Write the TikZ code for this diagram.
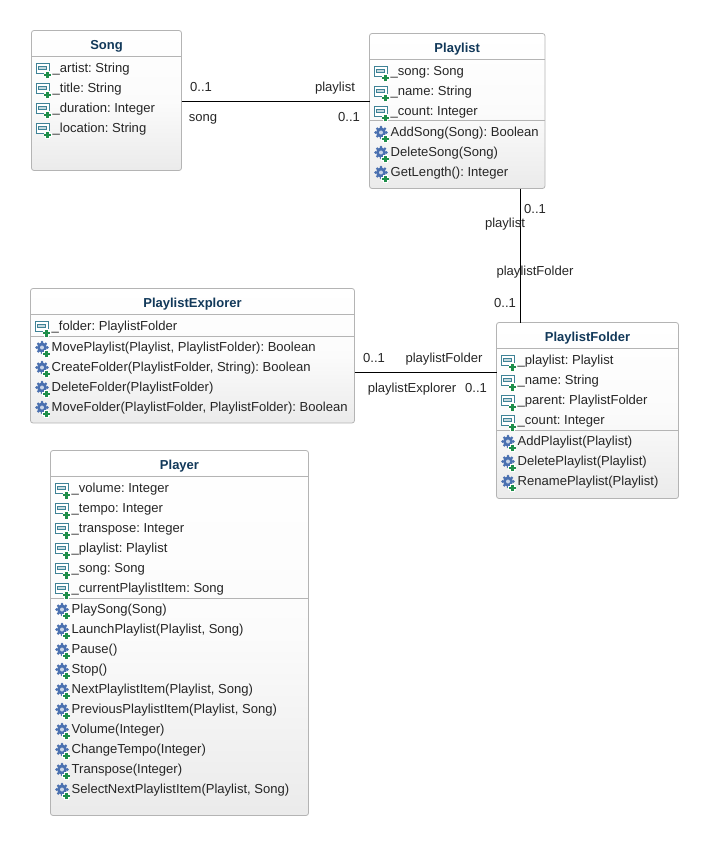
\documentclass[tikz,border=0pt]{standalone}
\usepackage{fontspec}
\setmainfont{Liberation Sans}
\usetikzlibrary{calc}

\definecolor{titleblue}{HTML}{12395A}
\definecolor{boxline}{HTML}{B4B4B4}
\definecolor{iconblue}{HTML}{3F8296}
\definecolor{gearblue}{HTML}{4A70B0}
\definecolor{plusgreen}{HTML}{1E8E4A}

\tikzset{
	umlclass/.style={draw=boxline,line width=.8pt,rounded corners=2.5pt,top color=white,bottom color=black!8,middle color=black!1.5,inner sep=0pt,outer sep=0pt,anchor=north west},
	classname/.style={font=\fontsize{13}{15}\selectfont\bfseries,text=titleblue,anchor=base},
	member/.style={font=\fontsize{13.05}{15}\selectfont\frenchspacing,text=black!85,anchor=base west,inner sep=0pt},
	assoc/.style={font=\fontsize{13.05}{15}\selectfont,text=black!85,inner sep=0pt,anchor=base},
	assocline/.style={line width=1pt,black},
	plusmark/.pic={
		\fill[white] (-2.4,-4) rectangle (2.4,4);
		\fill[white] (-4,-2.4) rectangle (4,2.4);
		\draw[plusgreen,line width=2.2pt] (-3.4,0) -- (3.4,0) (0,-3.4) -- (0,3.4);
	},
	attricon/.pic={
		\draw[iconblue,fill=white,line width=.9pt] (-8,5) rectangle (5.5,-4.8);
		\draw[iconblue,fill=iconblue!30,line width=.7pt] (-5.5,2.6) rectangle (2.5,-1.2);
		\pic at (3.5,-6.6) {plusmark};
	},
	opicon/.pic={
		\foreach \a in {0,45,...,315}
			\fill[gearblue] (-1,-.5) ++(\a:5.3) circle (1.5pt);
		\fill[gearblue] (-1,-.5) circle (5pt);
		\fill[white!70!gearblue] (-1,-.5) circle (2pt);
		\pic at (3.4,-7) {plusmark};
	},
}

% box, title, rule under the title, rule above the operations
\newcommand{\umlbox}[7]{
	\node[umlclass,minimum width=#4 pt,minimum height=#5 pt] (#1) at (#2,-#3) {};
	\node[classname] (#1-title) at ($(#1.north)+(0,-19)$) {#1};
	\draw[boxline,line width=.8pt] ($(#1.north west)+(0,-#6)$) -- ($(#1.north east)+(0,-#6)$);
	\ifx&#7&\else
	\draw[boxline,line width=.8pt] ($(#1.north west)+(0,-#7)$) -- ($(#1.north east)+(0,-#7)$);
	\fi
}
% #1 class, #2 first row below the top, #3 picture for the icon, #4 rows
\newcommand{\umlrows}[4]{
	\foreach \row [count=\i] in {#4} {
		\pic at ($(#1.north west)+(12.5,-#2-20*\i+20)$) {#3};
		\node[member] (#1-#3-\i) at ($(#1.north west)+(21,-#2-20*\i+20-4.4)$) {\row};
	}
}

\begin{document}
\begin{tikzpicture}[x=1pt,y=1pt]
	\useasboundingbox (0,0) rectangle (708,-845);

	\umlbox{Song}{31.5}{30.5}{150}{140}{26}{}
	\umlrows{Song}{38}{attricon}{\_artist: String,\_title: String,\_duration: Integer,\_location: String}

	\umlbox{Playlist}{369.5}{33.5}{175.5}{155}{26}{87}
	\umlrows{Playlist}{38}{attricon}{\_song: Song,\_name: String,\_count: Integer}
	\umlrows{Playlist}{98.5}{opicon}{AddSong(Song): Boolean,DeleteSong(Song),GetLength(): Integer}

	\umlbox{PlaylistExplorer}{30.5}{288.5}{324}{134.5}{26}{47.5}
	\umlrows{PlaylistExplorer}{38}{attricon}{\_folder: PlaylistFolder}
	\umlrows{PlaylistExplorer}{58.5}{opicon}{{MovePlaylist(Playlist, PlaylistFolder): Boolean},{CreateFolder(PlaylistFolder, String): Boolean},DeleteFolder(PlaylistFolder),{MoveFolder(PlaylistFolder, PlaylistFolder): Boolean}}

	\umlbox{PlaylistFolder}{496.5}{322.5}{182}{176}{26}{107.5}
	\umlrows{PlaylistFolder}{38}{attricon}{\_playlist: Playlist,\_name: String,\_parent: PlaylistFolder,\_count: Integer}
	\umlrows{PlaylistFolder}{118.5}{opicon}{AddPlaylist(Playlist),DeletePlaylist(Playlist),RenamePlaylist(Playlist)}

	\umlbox{Player}{50.5}{450.5}{258}{365}{26}{147.5}
	\umlrows{Player}{38}{attricon}{\_volume: Integer,\_tempo: Integer,\_transpose: Integer,\_playlist: Playlist,\_song: Song,\_currentPlaylistItem: Song}
	\umlrows{Player}{158.5}{opicon}{PlaySong(Song),{LaunchPlaylist(Playlist, Song)},Pause(),Stop(),{NextPlaylistItem(Playlist, Song)},{PreviousPlaylistItem(Playlist, Song)},Volume(Integer),ChangeTempo(Integer),Transpose(Integer),{SelectNextPlaylistItem(Playlist, Song)}}

	% associations
	\draw[assocline] ($(Song.east)+(0,-1)$) -- ($(Song.east -| Playlist.west)+(0,-1)$);
	\draw[assocline] ($(Playlist.south east)+(-24.5,0)$) -- ($(PlaylistFolder.north west)+(24,0)$);
	\draw[assocline] ($(PlaylistExplorer.south east)+(0,50.5)$) -- ($(PlaylistExplorer.south east -| PlaylistFolder.west)+(0,50.5)$);

	\node[assoc] (m1) at (201,-91.7) {0..1};
	\node[assoc] (r1) at (335,-91.7) {playlist};
	\node[assoc] (r2) at (203,-121.7) {song};
	\node[assoc] (m2) at (349,-121.7) {0..1};
	\node[assoc] (m3) at (535,-213) {0..1};
	\node[assoc] (r3) at (505,-227) {playlist};
	\node[assoc] (r4) at (535,-275.5) {playlistFolder};
	\node[assoc] (m4) at (505,-307) {0..1};
	\node[assoc] (m5) at (374,-362.5) {0..1};
	\node[assoc] (r5) at (444,-362.5) {playlistFolder};
	\node[assoc] (r6) at (412,-392.5) {playlistExplorer};
	\node[assoc] (m6) at (476,-392.5) {0..1};
\end{tikzpicture}
\end{document}
